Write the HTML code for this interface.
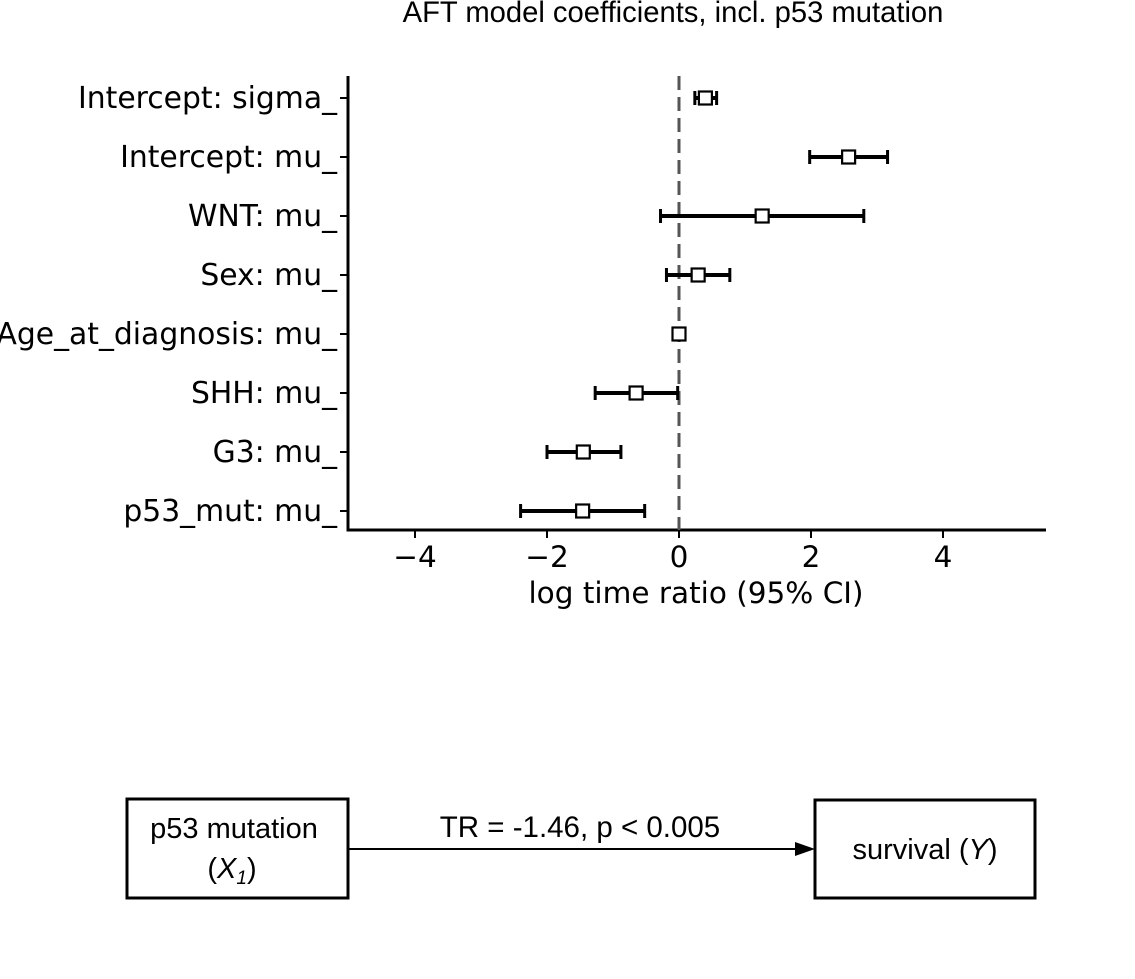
<!DOCTYPE html>
<html><head><meta charset="utf-8"><style>
body{margin:0;background:#fff;}
svg{display:block;font-family:"Liberation Sans",sans-serif;}
.dv{font-family:"DejaVu Sans",sans-serif;}
</style></head><body>
<svg id="chart" width="1135" height="979" viewBox="0 0 1135 979" xmlns="http://www.w3.org/2000/svg">
<text x="673" y="22" font-size="29.2" text-anchor="middle">AFT model coefficients, incl. p53 mutation</text>
<g id="plot"></g>
<g>
<rect x="127" y="799" width="221" height="99" fill="none" stroke="#000" stroke-width="3"/>
<text x="234" y="838" font-size="29" text-anchor="middle">p53 mutation</text>
<text x="232" y="878" font-size="29" text-anchor="middle">(<tspan font-style="italic">X</tspan><tspan font-style="italic" font-size="19" dy="6">1</tspan><tspan dy="-6">)</tspan></text>
<line x1="348" y1="849" x2="800" y2="849" stroke="#000" stroke-width="2"/>
<polygon points="815,849 795,842 795,856" fill="#000"/>
<text x="580" y="837" font-size="29.5" text-anchor="middle">TR = -1.46, p &lt; 0.005</text>
<rect x="815" y="800" width="220" height="98" fill="none" stroke="#000" stroke-width="3"/>
<text x="925" y="859" font-size="29" text-anchor="middle">survival (<tspan font-style="italic">Y</tspan>)</text>
</g>
</svg>
<script>
const labels=["Intercept: sigma_","Intercept: mu_","WNT: mu_","Sex: mu_","Age_at_diagnosis: mu_","SHH: mu_","G3: mu_","p53_mut: mu_"];
const coef=[0.40,2.57,1.26,0.29,0.00,-0.65,-1.45,-1.46];
const lower=[0.24,1.98,-0.28,-0.19,-0.01,-1.27,-2.00,-2.40];
const upper=[0.57,3.16,2.80,0.77,0.01,-0.02,-0.88,-0.52];
const xTicks=[-4,-2,0,2,4];
const xTickLabels=["\u22124","\u22122","0","2","4"];
const NS="http://www.w3.org/2000/svg";
const g=document.getElementById('plot');
const X=v=>679+66*v;
const Y=i=>98+59*i;
function mk(t,a,p){const e=document.createElementNS(NS,t);for(const k in a)e.setAttribute(k,a[k]);(p||g).appendChild(e);return e;}
let e;
e=mk('line',{x1:348,y1:76,x2:348,y2:531,stroke:'#000','stroke-width':3});


e=mk('line',{x1:346.5,y1:530,x2:1046,y2:530,stroke:'#000','stroke-width':3});


e=mk('line',{x1:X(0),y1:76,x2:X(0),y2:530,stroke:'#555','stroke-width':3,'stroke-dasharray':'14,7'});


xTicks.forEach((v,i)=>{
 e=mk('line',{x1:X(v),y1:530,x2:X(v),y2:538,stroke:'#000','stroke-width':2});
 
 
 e=mk('text',{x:X(v),y:567,'font-size':29.5,'text-anchor':'middle','class':'dv'});
 e.textContent=xTickLabels[i];
 
 
});
e=mk('text',{x:696,y:603,'font-size':29.5,'text-anchor':'middle','class':'dv'});
e.textContent='log time ratio (95% CI)';


labels.forEach((l,i)=>{
 const y=Y(i);
 e=mk('line',{x1:340,y1:y,x2:348,y2:y,stroke:'#000','stroke-width':2});
 
 
 e=mk('text',{x:337,y:y+10,'font-size':29.8,'text-anchor':'end','class':'dv'});
 e.textContent=l;
 
 
 e=mk('line',{x1:X(lower[i]),y1:y,x2:X(upper[i]),y2:y,stroke:'#000','stroke-width':4});
 
 
 [lower[i],upper[i]].forEach(v=>{
  e=mk('line',{x1:X(v),y1:y-7,x2:X(v),y2:y+7,stroke:'#000','stroke-width':3});
  
  
 });
 e=mk('rect',{x:X(coef[i])-6.5,y:y-6.5,width:13,height:13,fill:'#fff',stroke:'#000','stroke-width':2.2});
 
 
});
</script>
</body></html>
